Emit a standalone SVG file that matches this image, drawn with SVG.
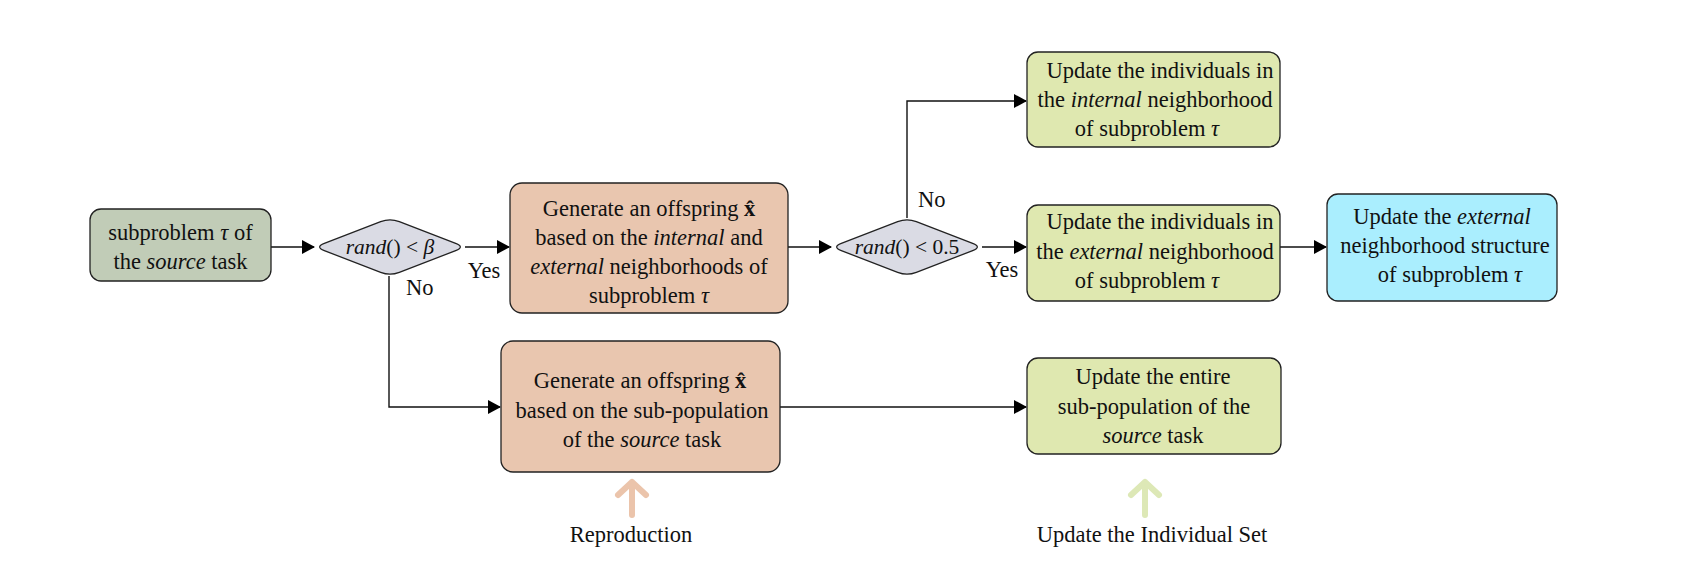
<svg xmlns="http://www.w3.org/2000/svg" xmlns:xlink="http://www.w3.org/1999/xlink" width="1698" height="568" viewBox="0 0 1698 568">
<style>
text { font-family: "Liberation Serif", "Times New Roman", serif; font-size: 22.5px; fill: #111; }
.c { text-anchor: middle; }
.i { font-style: italic; }
.b { font-weight: bold; }
.dt { font-size: 21.5px; }
.box { stroke: #222; stroke-width: 1.3; }
.src { fill: #C1CCB7; }
.dia { fill: #DADBE4; stroke: #222; stroke-width: 1.3; }
.peach { fill: #E9C6AF; }
.green { fill: #DFE8B0; }
.cyan { fill: #AAEEFE; }
.conn { fill: none; stroke: #111; stroke-width: 1.4; marker-end: url(#arr); }
.big { fill: none; stroke-width: 6; stroke-linecap: round; stroke-linejoin: round; }
</style>
<defs>
<marker id="arr" markerUnits="userSpaceOnUse" markerWidth="13" markerHeight="14" refX="12" refY="7" orient="auto">
<path d="M0,0 L13,7 L0,14 Z" fill="#000"/>
</marker>
<path id="diamond" d="M-65.67,-3.61 L-9.33,-25.39 Q0,-29 9.33,-25.39 L65.67,-3.61 Q75,0 65.67,3.61 L9.33,25.39 Q0,29 -9.33,25.39 L-65.67,3.61 Q-75,0 -65.67,-3.61 Z"/>
</defs>
<rect width="1698" height="568" fill="#fff"/>

<g id="connectors">
<path class="conn" d="M271,247 L314,247"/>
<path class="conn" d="M465,247 L509,247"/>
<path class="conn" d="M389,276 L389,407 L500,407"/>
<path class="conn" d="M788,247 L831,247"/>
<path class="conn" d="M907,218 L907,101 L1026,101"/>
<path class="conn" d="M982,247 L1026,247"/>
<path class="conn" d="M1280,247 L1326,247"/>
<path class="conn" d="M780,407 L1026,407"/>
<text x="484" y="278" class="c">Yes</text>
<text x="406" y="295">No</text>
<text x="918" y="207">No</text>
<text x="1002" y="277" class="c">Yes</text>
</g>

<g id="source">
<rect class="box src" x="90" y="209" width="181" height="72" rx="11"/>
<text x="180.5" y="240" class="c">subproblem <tspan class="i">τ</tspan> of</text>
<text x="180.5" y="269" class="c">the <tspan class="i">source</tspan> task</text>
</g>

<g id="decision1">
<use xlink:href="#diamond" href="#diamond" class="dia" transform="translate(390,247)"/>
<text x="390" y="254" class="c dt"><tspan class="i">rand</tspan>() &lt; <tspan class="i">β</tspan></text>
</g>

<g id="gen-neighborhood">
<rect class="box peach" x="510" y="183" width="278" height="130" rx="12"/>
<text x="649" y="216" class="c">Generate an offspring <tspan class="b">x&#x302;</tspan></text>
<text x="649" y="245" class="c">based on the <tspan class="i">internal</tspan> and</text>
<text x="649" y="274" class="c"><tspan class="i">external</tspan> neighborhoods of</text>
<text x="649" y="303" class="c">subproblem <tspan class="i">τ</tspan></text>
</g>

<g id="decision2">
<use xlink:href="#diamond" href="#diamond" class="dia" transform="translate(907,247)"/>
<text x="907" y="254" class="c dt"><tspan class="i">rand</tspan>() &lt; 0.5</text>
</g>

<g id="update-internal">
<rect class="box green" x="1027" y="52" width="253" height="95" rx="11"/>
<text x="1160" y="78" class="c">Update the individuals in</text>
<text x="1155" y="107" class="c">the <tspan class="i">internal</tspan> neighborhood</text>
<text x="1147" y="136" class="c">of subproblem <tspan class="i">τ</tspan></text>
</g>

<g id="update-external">
<rect class="box green" x="1027" y="205" width="253" height="96" rx="11"/>
<text x="1160" y="229" class="c">Update the individuals in</text>
<text x="1155" y="259" class="c">the <tspan class="i">external</tspan> neighborhood</text>
<text x="1147" y="288" class="c">of subproblem <tspan class="i">τ</tspan></text>
</g>

<g id="update-structure">
<rect class="box cyan" x="1327" y="194" width="230" height="107" rx="11"/>
<text x="1442" y="224" class="c">Update the <tspan class="i">external</tspan></text>
<text x="1445" y="253" class="c">neighborhood structure</text>
<text x="1450" y="282" class="c">of subproblem <tspan class="i">τ</tspan></text>
</g>

<g id="gen-subpop">
<rect class="box peach" x="501" y="341" width="279" height="131" rx="12"/>
<text x="640" y="388" class="c">Generate an offspring <tspan class="b">x&#x302;</tspan></text>
<text x="642" y="418" class="c">based on the sub-population</text>
<text x="642" y="447" class="c">of the <tspan class="i">source</tspan> task</text>
</g>

<g id="update-entire">
<rect class="box green" x="1027" y="358" width="254" height="96" rx="11"/>
<text x="1153" y="384" class="c">Update the entire</text>
<text x="1154" y="414" class="c">sub-population of the</text>
<text x="1153" y="443" class="c"><tspan class="i">source</tspan> task</text>
</g>

<g id="reproduction-label">
<path class="big" stroke="#EBC4AB" d="M632,515 L632,482 M618,495 L632,482 L646,495"/>
<text x="631" y="542" class="c">Reproduction</text>
</g>

<g id="update-set-label">
<path class="big" stroke="#DDE8B6" d="M1145,515 L1145,482 M1131,495 L1145,482 L1159,495"/>
<text x="1152" y="542" class="c">Update the Individual Set</text>
</g>
</svg>
